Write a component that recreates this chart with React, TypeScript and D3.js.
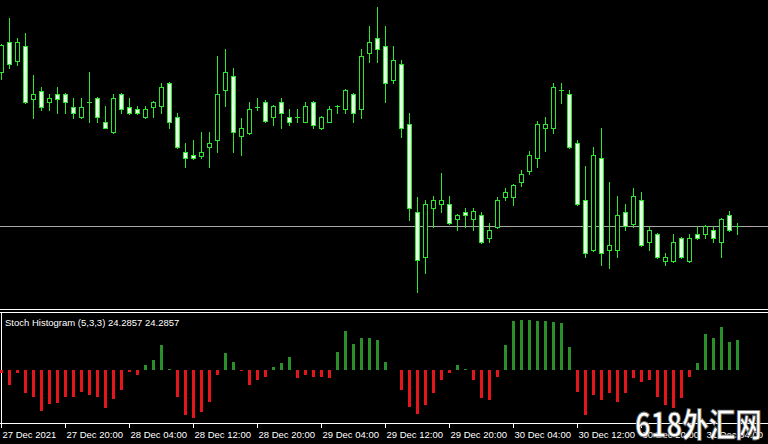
import * as React from "react";
import * as d3 from "d3";

// H1 candles, price in points
const opens = [228, 258, 239, 254, 201, 209, 198, 206, 206, 193, 183, 198, 202, 178, 168, 206, 193, 191, 183, 193, 194, 217, 183, 148, 145, 144, 153, 160, 210, 224, 164, 167, 193, 198, 183, 198, 183, 183, 178, 198, 172, 178, 194, 191, 206, 191, 247, 262, 254, 220, 236, 176, 88, 43, 92, 96, 96, 81, 88, 81, 85, 62, 73, 103, 103, 118, 129, 142, 172, 172, 210, 206, 157, 100, 50, 142, 50, 50, 88, 76, 100, 58, 66, 39, 39, 62, 39, 66, 66, 70, 58, 85, 74];
const highs = [256, 282, 262, 267, 225, 213, 206, 213, 207, 202, 202, 228, 203, 194, 206, 207, 202, 194, 194, 199, 217, 218, 187, 157, 160, 168, 168, 244, 251, 232, 182, 198, 202, 200, 195, 202, 191, 191, 198, 199, 184, 194, 195, 211, 207, 251, 274, 293, 274, 254, 240, 187, 103, 100, 104, 127, 104, 86, 92, 92, 88, 77, 103, 112, 116, 130, 149, 179, 183, 217, 217, 210, 160, 134, 153, 172, 118, 104, 96, 112, 108, 74, 67, 47, 66, 63, 66, 74, 75, 74, 82, 89, 77];
const lows = [221, 232, 235, 197, 182, 190, 190, 187, 187, 182, 182, 178, 178, 172, 167, 187, 186, 186, 182, 183, 187, 172, 152, 133, 141, 142, 133, 148, 194, 148, 145, 166, 190, 178, 175, 172, 175, 178, 178, 172, 171, 178, 187, 187, 178, 182, 238, 238, 198, 217, 163, 80, 8, 27, 73, 88, 76, 70, 73, 70, 57, 58, 72, 100, 95, 114, 126, 133, 149, 167, 197, 152, 95, 43, 49, 35, 32, 43, 70, 73, 54, 50, 42, 35, 38, 42, 38, 61, 62, 58, 43, 69, 66];
const closes = [255, 236, 258, 198, 206, 193, 202, 201, 198, 187, 193, 198, 183, 172, 202, 191, 187, 187, 191, 198, 213, 178, 153, 142, 142, 148, 157, 206, 228, 168, 172, 191, 193, 179, 194, 187, 178, 183, 194, 175, 183, 191, 194, 210, 187, 244, 258, 251, 217, 240, 172, 92, 40, 96, 100, 100, 77, 85, 85, 89, 58, 70, 100, 108, 115, 126, 145, 176, 176, 213, 210, 153, 96, 47, 145, 47, 55, 85, 74, 104, 55, 70, 43, 43, 58, 43, 62, 62, 74, 62, 81, 70, 74];

// Stoch histogram (stoch - 50)
const stochHist = [-3, -15, -3, -23, -27, -41, -34, -33, -27, -27, -22, -25, -27, -38, -29, -20, -2, -5, 5, 10, 25, 1, -27, -45, -48, -42, -32, -5, 17, 8, -1, -15, -10, -7, 3, 7, 13, -8, -5, -7, -7, -8, 18, 39, 26, 32, 32, 30, 8, 0, -20, -37, -44, -35, -23, -10, -3, 5, 1, -10, -28, -30, -7, 25, 49, 50, 50, 49, 49, 48, 47, 23, -22, -45, -25, -30, -23, -32, -23, -8, -12, -10, -27, -35, -38, -28, -7, 7, 36, 32, 43, 28, 30];

const timeLabels = ["27 Dec 2021", "27 Dec 20:00", "28 Dec 04:00", "28 Dec 12:00", "28 Dec 20:00", "29 Dec 04:00", "29 Dec 12:00", "29 Dec 20:00", "30 Dec 04:00", "30 Dec 12:00", "30 Dec 20:00", "31 Dec 04:00"];
const labelEvery = 8;

const W = 768;
const H = 444;

export default function App() {
  React.useEffect(() => {
    document.body.style.margin = "0";
    document.body.style.background = "#000";
  }, []);

  const x = d3.scaleLinear().domain([0, closes.length - 1]).range([1.5, 1.5 + 8 * (closes.length - 1)]);
  const y = d3.scaleLinear().domain([0, 300]).range([300, 0]);
  const yh = d3.scaleLinear().domain([-50, 50]).range([420, 320]);

  const up = "#2ee62e";
  const downFill = "#e4ffe4";
  const font = "'Liberation Sans', Arial, sans-serif";

  const candles = closes.map((c, i) => {
    const o = opens[i];
    const cx = x(i);
    const bull = c >= o;
    const top = Math.round(y(Math.max(o, c))) + 0.5;
    const bot = Math.round(y(Math.min(o, c))) + 0.5;
    return (
      <g key={i}>
        <line x1={cx} x2={cx} y1={Math.round(y(highs[i]))} y2={Math.round(y(lows[i])) + 1} stroke={up} strokeWidth={1} />
        {top === bot ? (
          <line x1={cx - 2.5} x2={cx + 2.5} y1={top} y2={top} stroke={up} strokeWidth={1} />
        ) : (
          <rect x={cx - 2} y={top} width={4} height={bot - top} fill={bull ? "#000" : downFill} stroke={up} strokeWidth={1} />
        )}
      </g>
    );
  });

  const bars = stochHist.map((v, i) => {
    const y0 = yh(0);
    const y1 = yh(v);
    return (
      <rect key={i} x={x(i) - 1.5} y={Math.min(y0, y1)} width={3} height={Math.abs(y1 - y0)}
        fill={v >= 0 ? "#2a902a" : "#e4161c"} />
    );
  });

  const lastClose = closes[closes.length - 1];

  return (
    <svg width={W} height={H} style={{ position: "absolute", left: 0, top: 0, display: "block", background: "#000" }}>
      <rect x={0} y={0} width={W} height={H} fill="#000" />
      <line x1={0} x2={W} y1={Math.round(y(lastClose)) + 0.5} y2={Math.round(y(lastClose)) + 0.5} stroke="#a8a8a8" strokeWidth={1} />
      {candles}
      <line x1={0} x2={W} y1={309.5} y2={309.5} stroke="#fff" strokeWidth={1} />
      <line x1={0} x2={W} y1={312.5} y2={312.5} stroke="#fff" strokeWidth={1} />
      <line x1={1.5} x2={1.5} y1={312} y2={424} stroke="#fff" strokeWidth={1} />
      <line x1={0} x2={W} y1={423.5} y2={423.5} stroke="#fff" strokeWidth={1} />
      {bars}
      <text x={5} y={325.5} fill="#fff" fontFamily={font} fontSize={9.5}>Stoch Histogram (5,3,3) 24.2857 24.2857</text>
      {timeLabels.map((t, k) => {
        const tx = Math.round(x(k * labelEvery) - 0.5) + 0.5;
        return (
          <g key={t}>
            <line x1={tx} x2={tx} y1={424} y2={428} stroke="#fff" strokeWidth={1} />
            <text x={tx + 1} y={437.5} fill="#fff" fontFamily={font} fontSize={9.5}>{t}</text>
          </g>
        );
      })}
      <text x={635} y={437} fill="#fff" stroke="#666" strokeWidth={0.8} fontFamily="'Noto Sans CJK SC', sans-serif" fontWeight="bold" fontSize={33} textLength={127} lengthAdjust="spacingAndGlyphs">618外汇网</text>
    </svg>
  );
}
